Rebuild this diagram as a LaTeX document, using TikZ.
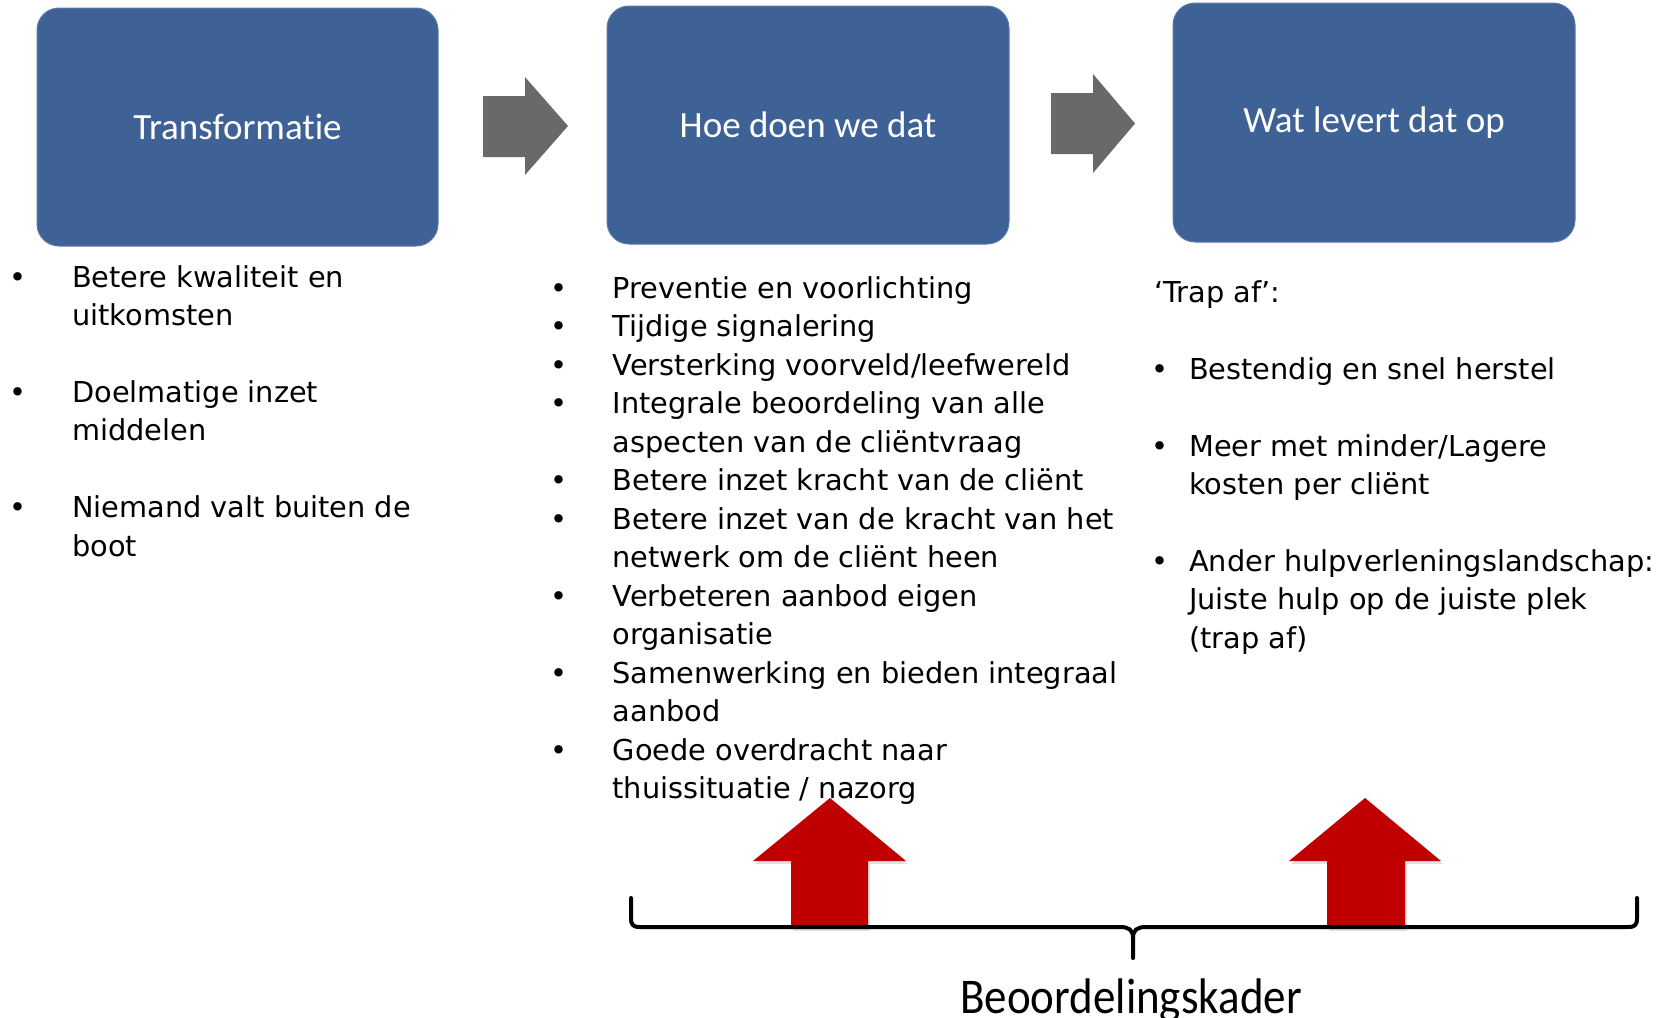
\documentclass[tikz,border=0pt]{standalone}
\usepackage{fontspec}
\setmainfont{DejaVu Sans}
\newfontfamily\boxfont[Ligatures=NoCommon]{Carlito}
\newfontfamily\kaderfont[FakeStretch=0.9]{Carlito}
\definecolor{boxblue}{RGB}{63,98,150}
\definecolor{arrowgray}{RGB}{105,105,105}
\definecolor{arrowred}{RGB}{192,0,0}
\begin{document}
\begin{tikzpicture}[x=1pt,y=-1pt,
  stage/.style={rounded corners=22pt, fill=boxblue, draw=boxblue!85!white, line width=1pt,
    text=white, font=\boxfont\fontsize{37}{44}\selectfont},
  item/.style={anchor=base west, inner sep=0pt, align=left, font=\fontsize{28.8}{38.5}\selectfont},
  dot/.style={anchor=base west, inner sep=0pt, font=\fontsize{28.8}{38.5}\selectfont},
  grayarrow/.style={fill=arrowgray},
  redarrow/.style={fill=arrowred},
  redshadow/.style={fill=black, opacity=0.12},
  brace/.style={line width=4pt, line join=round, line cap=round}
]
\useasboundingbox (0,0) rectangle (1656,1017);

% stage boxes
\node[stage, minimum width=401pt, minimum height=238pt] (b1) at (237.5,127) {Transformatie};
\node[stage, minimum width=402pt, minimum height=238pt] (b2) at (808,125) {Hoe doen we dat};
\node[stage, minimum width=402pt, minimum height=239pt] (b3) at (1374,122.5) {Wat levert dat op};

% gray block arrows
\fill[grayarrow] (483,96) -- (525,96) -- (525,77) -- (568,126) -- (525,175) -- (525,157) -- (483,157) -- cycle;
\fill[grayarrow] (1051,93) -- (1093,93) -- (1093,74) -- (1135,123.5) -- (1093,173) -- (1093,154) -- (1051,154) -- cycle;

% left column (anchor base = last line)
\node[dot] (l1d) at (9.5,287) {\textbullet};
\node[item] (l1) at (72,325.5) {Betere kwaliteit en\\uitkomsten};
\node[dot] (l2d) at (9.5,402) {\textbullet};
\node[item] (l2) at (72,440.5) {Doelmatige inzet\\middelen};
\node[dot] (l3d) at (9.5,517.5) {\textbullet};
\node[item] (l3) at (72,556) {Niemand valt buiten de\\boot};

% middle column
\node[dot] (m1d) at (550.5,298) {\textbullet};
\node[item] (m1) at (612.5,298) {Preventie en voorlichting};
\node[dot] (m2d) at (550.5,336.5) {\textbullet};
\node[item] (m2) at (612.5,336.5) {Tijdige signalering};
\node[dot] (m3d) at (550.5,375) {\textbullet};
\node[item] (m3) at (612.5,375) {Versterking voorveld/leefwereld};
\node[dot] (m4d) at (550.5,413.5) {\textbullet};
\node[item] (m4) at (612.5,452) {Integrale beoordeling van alle\\aspecten van de cliëntvraag};
\node[dot] (m5d) at (550.5,490.5) {\textbullet};
\node[item] (m5) at (612.5,490.5) {Betere inzet kracht van de cliënt};
\node[dot] (m6d) at (550.5,529) {\textbullet};
\node[item] (m6) at (612.5,567.5) {Betere inzet van de kracht van het\\netwerk om de cliënt heen};
\node[dot] (m7d) at (550.5,606) {\textbullet};
\node[item] (m7) at (612.5,644.5) {Verbeteren aanbod eigen\\organisatie};
\node[dot] (m8d) at (550.5,683) {\textbullet};
\node[item] (m8) at (612.5,721.5) {Samenwerking en bieden integraal\\aanbod};
\node[dot] (m9d) at (550.5,760) {\textbullet};
\node[item] (m9) at (612.5,798.5) {Goede overdracht naar\\thuissituatie / nazorg};

% right column
\node[item] (rt) at (1154,302) {‘Trap af’:};
\node[dot] (r1d) at (1151.5,379) {\textbullet};
\node[item] (r1) at (1189,379) {Bestendig en snel herstel};
\node[dot] (r2d) at (1151.5,456) {\textbullet};
\node[item] (r2) at (1189,494.5) {Meer met minder/Lagere\\kosten per cliënt};
\node[dot] (r3d) at (1151.5,571) {\textbullet};
\node[item] (r3) at (1189,648) {Ander hulpverleningslandschap:\\Juiste hulp op de juiste plek\\(trap af)};

% red arrows (with soft shadow)
\fill[redshadow] (793,931) -- (793,864) -- (755,864) -- (832,801) -- (908,864) -- (870,864) -- (870,931) -- cycle;
\fill[redshadow] (1329,931) -- (1329,864) -- (1291,864) -- (1367,801) -- (1443,864) -- (1407,864) -- (1407,931) -- cycle;
\fill[redarrow] (791,927) -- (791,861) -- (753,861) -- (830,798) -- (906,861) -- (868,861) -- (868,927) -- cycle;
\fill[redarrow] (1327,927) -- (1327,861) -- (1289,861) -- (1365,798) -- (1441,861) -- (1405,861) -- (1405,927) -- cycle;

% brace
\coordinate (bl) at (631,898);
\coordinate (br) at (1637,898);
\coordinate (bt) at (1133,958);
\draw[brace] (bl) -- (631,918) .. controls (631,925) and (633,927) .. (640,927) -- (1120,927)
  .. controls (1129,927) and (1133,930) .. (1133,938) -- (bt);
\draw[brace] (br) -- (1637,918) .. controls (1637,925) and (1635,927) .. (1628,927) -- (1146,927)
  .. controls (1137,927) and (1133,930) .. (1133,938);

\node[anchor=base, inner sep=0pt, font=\kaderfont\fontsize{50}{60}\selectfont] (kader) at (1131,1013) {Beoordelingskader};
\end{tikzpicture}
\end{document}
